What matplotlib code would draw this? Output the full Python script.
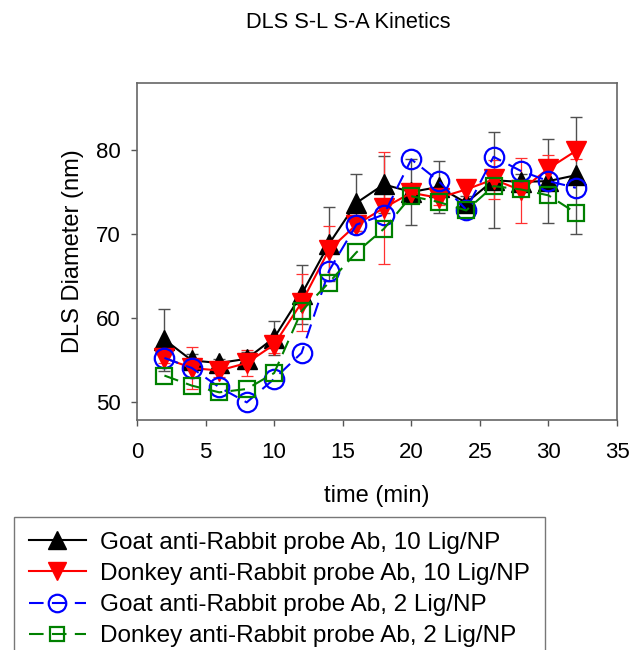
import matplotlib
matplotlib.use('Agg')
import matplotlib.pyplot as plt
import numpy as np

plt.rcParams['font.family'] = ['Liberation Sans', 'DejaVu Sans']

# time points (min)
time = [2, 4, 6, 8, 10, 12, 14, 16, 18, 20, 22, 24, 26, 28, 30, 32]

# Goat anti-Rabbit probe Ab, 10 Lig/NP
goat10 = [57.4, 54.9, 54.6, 55.1, 57.6, 62.8, 68.8, 73.7, 75.9, 75.0, 75.6, 73.7, 76.4, 76.2, 76.3, 77.0]
goat10_err = [3.7, 0.8, 0.5, 0.8, 2.0, 3.5, 4.4, 3.4, 3.4, 3.9, 3.1, 0.8, 5.7, 1.0, 5.0, 7.0]

# Donkey anti-Rabbit probe Ab, 10 Lig/NP
donkey10 = [55.2, 54.0, 53.7, 54.6, 56.8, 61.8, 68.1, 71.1, 73.1, 74.9, 74.3, 75.3, 76.5, 75.2, 77.8, 79.9]
donkey10_err = [0.6, 2.5, 0.8, 1.5, 1.0, 3.4, 2.9, 0.8, 6.7, 0.5, 0.8, 1.1, 2.3, 3.9, 1.6, 1.0]

# Goat anti-Rabbit probe Ab, 2 Lig/NP
goat2 = [55.2, 54.0, 51.7, 49.9, 52.7, 55.8, 65.6, 71.1, 72.3, 78.9, 76.3, 72.9, 79.2, 77.5, 76.3, 75.5]

# Donkey anti-Rabbit probe Ab, 2 Lig/NP
donkey2 = [53.1, 51.9, 51.1, 51.5, 53.4, 60.8, 64.2, 67.8, 70.6, 74.5, 73.8, 72.8, 75.7, 75.3, 74.6, 72.5]

labels = ['Goat anti-Rabbit probe Ab, 10 Lig/NP',
          'Donkey anti-Rabbit probe Ab, 10 Lig/NP',
          'Goat anti-Rabbit probe Ab, 2 Lig/NP',
          'Donkey anti-Rabbit probe Ab, 2 Lig/NP']

fig = plt.figure(figsize=(6.34, 6.5), dpi=100)
ax = fig.add_axes([137/634, 1 - 420/650, 480/634, 337/650])

# error bars first so markers sit on top
ax.errorbar(time, goat10, yerr=goat10_err, fmt='none', ecolor='#505050',
            elinewidth=1.0, capsize=4, capthick=1.0, zorder=1)
ax.errorbar(time, donkey10, yerr=donkey10_err, fmt='none', ecolor='#ff3030',
            elinewidth=0.9, capsize=4, capthick=0.9, zorder=1)

h1, = ax.plot(time, goat10, color='black', lw=1.5, marker='^', ms=14,
              mfc='black', mec='black', zorder=2)
h2, = ax.plot(time, donkey10, color='#ff0000', lw=1.5, marker='v', ms=14,
              mfc='#ff0000', mec='#ff0000', zorder=3)
h3, = ax.plot(time, goat2, color='#0000ff', lw=1.5, ls=(0, (7, 4)), marker='o', ms=14,
              mfc='none', mec='#0000ff', mew=1.6, zorder=4)
h4, = ax.plot(time, donkey2, color='#008000', lw=1.5, ls=(0, (7, 4)), marker='s', ms=11.5,
              mfc='none', mec='#008000', mew=1.6, zorder=5)

ax.set_xlim(0, 35)
ax.set_ylim(47.8, 88)
ax.set_xticks(np.arange(0, 36, 5))
ax.set_yticks([50, 60, 70, 80])
ax.tick_params(axis='both', direction='out', length=4, width=1, color='#555555',
               labelsize=16)
ax.tick_params(axis='x', pad=12)
ax.tick_params(axis='y', pad=8)
ax.tick_params(top=False, right=False)
for s in ax.spines.values():
    s.set_color('#666666')
    s.set_linewidth(1.2)

ax.set_xlabel('time (min)', fontsize=17, labelpad=16)
ax.set_ylabel('DLS Diameter (nm)', fontsize=17, labelpad=8)
fig.text(348/634, 1 - 23/650, 'DLS S-L S-A Kinetics', ha='center', va='center', fontsize=15.7)

leg = fig.legend([h1, h2, h3, h4], labels, loc='upper left',
                 bbox_to_anchor=(14/634, 1 - 517/650), fontsize=17.5,
                 frameon=True, fancybox=False, edgecolor='#555555',
                 handlelength=2.35, handletextpad=0.6, labelspacing=0.38,
                 borderpad=0.6, borderaxespad=0, markerscale=0.9)
leg.get_frame().set_linewidth(1.0)

fig.savefig('out.png', dpi=100, facecolor='white')
